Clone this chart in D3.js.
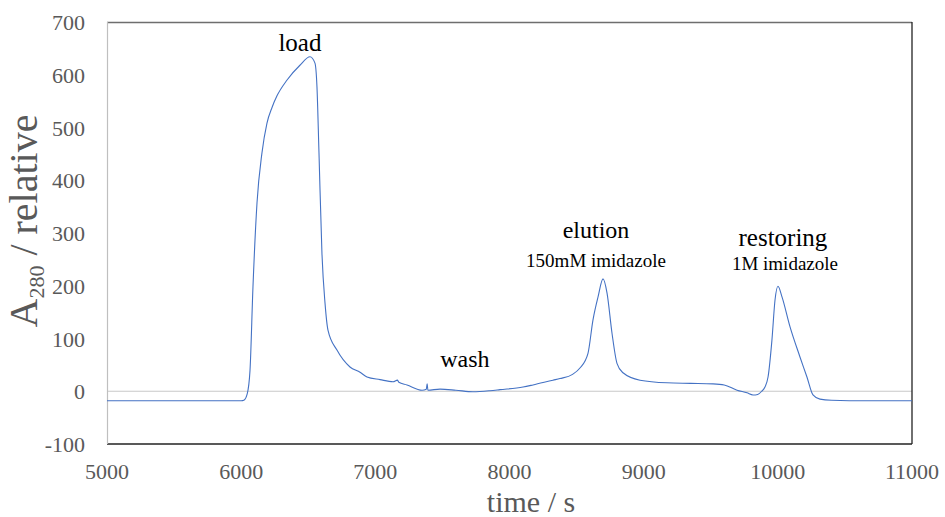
<!DOCTYPE html>
<html>
<head>
<meta charset="utf-8">
<script src="https://cdn.jsdelivr.net/npm/d3@7"></script>
<style>
  body { margin: 0; background: #fff; }
  svg text { font-family: "Liberation Serif", "Times New Roman", serif; }
</style>
</head>
<body>
<svg id="chart" width="945" height="517"></svg>
<script>
// chromatogram trace
var time = [5000, 5600, 6000, 6020, 6045, 6066, 6088, 6118, 6155, 6192, 6230, 6267, 6342, 6438, 6513, 6550, 6565, 6580,
    6602, 6625, 6647, 6714, 6811, 6886, 6938, 7035, 7132, 7165, 7175, 7236, 7348, 7380, 7386, 7392, 7482, 7600,
    7728, 7855, 7929, 8101, 8175, 8324, 8376, 8470, 8525, 8585, 8622, 8660, 8697, 8727, 8764, 8801, 8846, 8973,
    9174, 9350, 9517, 9600, 9696, 9770, 9815, 9850, 9880, 9904, 9927, 9956, 9979, 10001, 10031, 10091, 10165,
    10217, 10262, 10314, 10400, 10664, 11000];
var absorbance = [-18, -18, -18, -17, -5, 40, 198, 357, 452, 508, 538, 560, 590, 618, 634, 622, 577, 452,
    262, 167, 116, 78, 46, 36, 27, 22, 18, 21, 17, 12, 2, 4, 14, 2, 4, 2,
    -1, 1, 3, 8, 12, 21, 24, 32, 44, 72, 135, 179, 213, 186, 110, 53, 35, 21,
    16, 15, 14, 12, 2, -3, -7, -6, 0, 8, 27, 97, 173, 199, 179, 122, 65,
    27, -7, -15, -17, -18, -18];

var xTicks = [5000, 6000, 7000, 8000, 9000, 10000, 11000];
var yTicks = [-100, 0, 100, 200, 300, 400, 500, 600, 700];

var labels = [
    {text: "load", t: 6438, v: 645, size: 25},
    {text: "wash", t: 7668, v: 46, size: 24},
    {text: "elution", t: 8645, v: 290, size: 24},
    {text: "150mM imidazole", t: 8645, v: 235, size: 19},
    {text: "restoring", t: 10038, v: 275, size: 25},
    {text: "1M imidazole", t: 10053, v: 230, size: 19}
];

var margin = {left: 107, top: 22, right: 33, bottom: 73};
var svg = d3.select("#chart");
var width = 945 - margin.left - margin.right;
var height = 517 - margin.top - margin.bottom;

var x = d3.scaleLinear().domain([5000, 11000]).range([0, width]);
var y = d3.scaleLinear().domain([-100, 700]).range([height, 0]);

var g = svg.append("g").attr("transform", "translate(" + margin.left + "," + margin.top + ")");

// zero line
g.append("line")
    .attr("x1", 0).attr("x2", width)
    .attr("y1", y(0)).attr("y2", y(0))
    .attr("stroke", "#c8c8c8").attr("stroke-width", 1.2);

// plot frame
g.append("line").attr("x1", 0).attr("x2", width).attr("y1", 0.5).attr("y2", 0.5)
    .attr("stroke", "#6e6e6e").attr("stroke-width", 1.3);
g.append("line").attr("x1", width).attr("x2", width).attr("y1", 0).attr("y2", height)
    .attr("stroke", "#222").attr("stroke-width", 1.3);
g.append("line").attr("x1", 0).attr("x2", width).attr("y1", height).attr("y2", height)
    .attr("stroke", "#222").attr("stroke-width", 1.3);
g.append("line").attr("x1", 0.5).attr("x2", 0.5).attr("y1", 0).attr("y2", height)
    .attr("stroke", "#bfbfbf").attr("stroke-width", 1.2);

// tick labels
g.selectAll(".ytick").data(yTicks).enter()
    .append("text")
    .attr("class", "ytick")
    .attr("x", -22)
    .attr("y", function (d) { return y(d) + 8; })
    .attr("text-anchor", "end")
    .style("font-size", "22px")
    .attr("fill", "#595959")
    .text(function (d) { return d; });

g.selectAll(".xtick").data(xTicks).enter()
    .append("text")
    .attr("class", "xtick")
    .attr("x", function (d) { return x(d); })
    .attr("y", height + 35)
    .attr("text-anchor", "middle")
    .style("font-size", "22px")
    .attr("fill", "#595959")
    .text(function (d) { return d; });

// axis titles
svg.append("text")
    .attr("x", 531)
    .attr("y", 512)
    .attr("text-anchor", "middle")
    .style("font-size", "30px")
    .attr("fill", "#595959")
    .text("time / s");

var yTitle = svg.append("text")
    .attr("transform", "translate(37,221) rotate(-90)")
    .attr("text-anchor", "middle")
    .style("font-size", "40px")
    .attr("fill", "#595959");
yTitle.append("tspan").text("A");
yTitle.append("tspan").attr("dy", 7).style("font-size", "22px").text("280");
yTitle.append("tspan").attr("dy", -7).text(" / relative");

// trace
var pts = time.map(function (t, i) { return {t: t, v: absorbance[i]}; });
var line = d3.line()
    .x(function (d) { return x(d.t); })
    .y(function (d) { return y(d.v); })
    .curve(d3.curveMonotoneX);

g.append("path")
    .datum(pts)
    .attr("d", line)
    .attr("fill", "none")
    .attr("stroke", "#4472c4")
    .attr("stroke-width", 1.1);

// annotations
g.selectAll(".note").data(labels).enter()
    .append("text")
    .attr("class", "note")
    .attr("x", function (d) { return x(d.t); })
    .attr("y", function (d) { return y(d.v); })
    .attr("text-anchor", "middle")
    .style("font-family", "'Liberation Serif', serif")
    .style("font-size", function (d) { return d.size + "px"; })
    .attr("fill", "#000")
    .text(function (d) { return d.text; });
</script>
</body>
</html>
